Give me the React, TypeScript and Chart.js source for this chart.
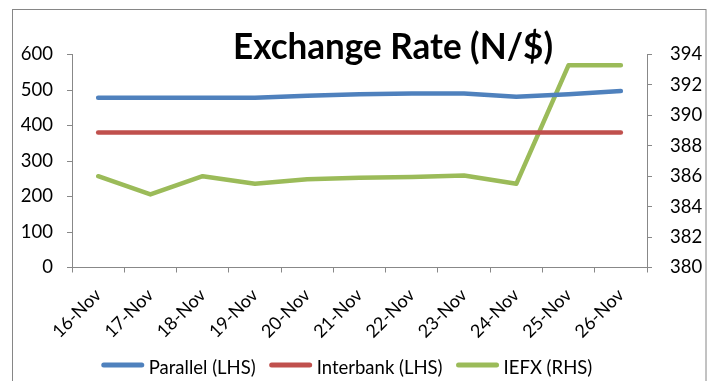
import React, { useEffect, useRef } from 'react';
import { Chart, registerables } from 'chart.js';

Chart.register(...registerables);

const categories = ['16-Nov', '17-Nov', '18-Nov', '19-Nov', '20-Nov', '21-Nov', '22-Nov', '23-Nov', '24-Nov', '25-Nov', '26-Nov'];
const parallel = [478, 478, 478, 478, 484, 488, 490, 490, 481, 488, 497];
const interbank = [380, 380, 380, 380, 380, 380, 380, 380, 380, 380, 380];
const iefx = [386.0, 384.8, 386.0, 385.5, 385.8, 385.9, 385.95, 386.05, 385.5, 393.3, 393.3];
const leftRange = [0, 600, 100];
const rightRange = [380, 394, 2];
const titleText = 'Exchange Rate (N/$)';
const seriesNames = ['Parallel (LHS)', 'Interbank (LHS)', 'IEFX (RHS)'];
const seriesColors = ['#4F81BD', '#C0504D', '#9BBB59'];

const FONT = 'Lato';

export default function App() {
  const ref = useRef<HTMLCanvasElement>(null);
  useEffect(() => {
    const canvas = ref.current!;
    const framePlugin = {
      id: 'frame',
      beforeDraw(chart: any) {
        const ctx = chart.ctx;
        ctx.save();
        ctx.fillStyle = '#ffffff';
        ctx.fillRect(0, 0, chart.width, chart.height);
        ctx.strokeStyle = '#868686';
        ctx.lineWidth = 1;
        ctx.strokeRect(12.5, 9.5, 693.5, 400);
        ctx.restore();
      },
      afterDraw(chart: any) {
        const ctx = chart.ctx;
        ctx.save();
        // title
        ctx.fillStyle = '#000';
        ctx.font = `bold 36px ${FONT}`;
        ctx.textAlign = 'left';
        ctx.textBaseline = 'alphabetic';
        ctx.fillText(titleText, 233, 59, 320);
        // legend
        ctx.font = `18.5px ${FONT}`;
        const lineLen = 42, gapLT = 5, gapItem = 14;
        const ds = chart.data.datasets;
        const widths = ds.map((d: any) => ctx.measureText(d.label).width);
        const total = widths.reduce((a: number, w: number) => a + lineLen + gapLT + w, 0) + gapItem * (ds.length - 1);
        let x = 347 - total / 2;
        ds.forEach((d: any, i: number) => {
          ctx.strokeStyle = d.borderColor;
          ctx.lineWidth = 5;
          ctx.lineCap = 'round';
          ctx.beginPath();
          ctx.moveTo(x + 2, 365);
          ctx.lineTo(x + lineLen - 2, 365);
          ctx.stroke();
          x += lineLen + gapLT;
          ctx.fillStyle = '#000';
          ctx.textBaseline = 'middle';
          ctx.fillText(d.label, x, 368);
          x += widths[i] + gapItem;
        });
        ctx.restore();
      },
    };

    const lineDs = (label: string, data: number[], color: string, axis: string) => ({
      label,
      data,
      borderColor: color,
      backgroundColor: color,
      borderWidth: 4.5,
      pointRadius: 0,
      pointHoverRadius: 0,
      borderCapStyle: 'round',
      borderJoinStyle: 'round',
      tension: 0,
      fill: false,
      yAxisID: axis,
    });

    const tickFont = { family: FONT, size: 18.5 };

    const chart = new Chart(canvas, {
      type: 'line',
      data: {
        labels: categories,
        datasets: [
          lineDs(seriesNames[0], parallel, seriesColors[0], 'y'),
          lineDs(seriesNames[1], interbank, seriesColors[1], 'y'),
          lineDs(seriesNames[2], iefx, seriesColors[2], 'y1'),
        ] as any,
      },
      options: {
        responsive: false,
        devicePixelRatio: 1,
        animation: false,
        events: [],
        layout: { padding: { top: 54.5, left: 0, right: 0, bottom: 0 } },
        plugins: {
          legend: { display: false },
          title: { display: false },
          tooltip: { enabled: false },
        },
        scales: {
          x: {
            type: 'category',
            offset: true,
            grid: { display: true, drawOnChartArea: false, drawTicks: true, tickLength: 5, color: '#888', offset: true },
            border: { display: true, color: '#888', width: 1 },
            ticks: { font: { family: FONT, size: 18 }, color: '#000', maxRotation: 45, minRotation: 45, padding: 12, autoSkip: false },
            afterFit: (s: any) => { s.height = 381 - 267.5; },
          },
          y: {
            position: 'left',
            min: leftRange[0],
            max: leftRange[1],
            ticks: { stepSize: leftRange[2], font: tickFont, color: '#000', padding: 14 },
            grid: { display: true, drawOnChartArea: false, drawTicks: true, tickLength: 5, color: '#888' },
            border: { display: true, color: '#888', width: 1 },
            afterFit: (s: any) => { s.width = 72; },
          },
          y1: {
            position: 'right',
            min: rightRange[0],
            max: rightRange[1],
            ticks: { stepSize: rightRange[2], font: tickFont, color: '#000', padding: 18 },
            grid: { display: true, drawOnChartArea: false, drawTicks: true, tickLength: 5, color: '#888' },
            border: { display: true, color: '#888', width: 1 },
            afterFit: (s: any) => { s.width = 714 - 647; },
          },
        },
      } as any,
      plugins: [framePlugin],
    });
    return () => chart.destroy();
  }, []);
  return (
    <div style={{ position: 'fixed', left: 0, top: 0, width: 714, height: 381, background: '#fff' }}>
      <canvas ref={ref} width={714} height={381} style={{ display: 'block', width: 714, height: 381 }} />
    </div>
  );
}
